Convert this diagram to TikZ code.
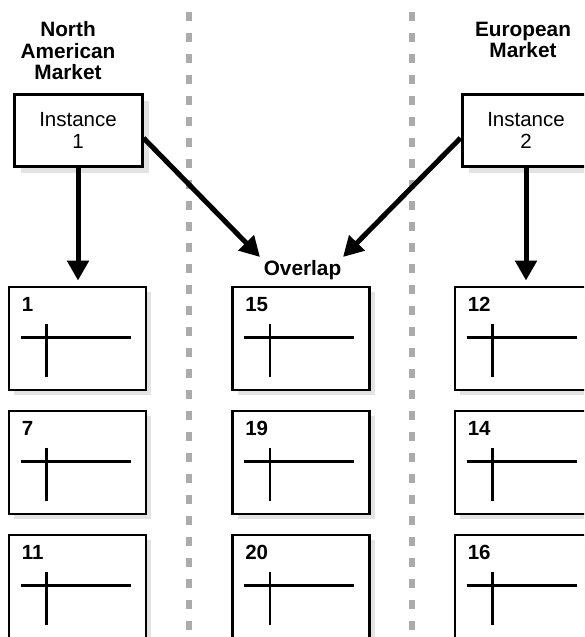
\documentclass[tikz,border=0pt]{standalone}
\usepackage{fontspec}
\setmainfont{Liberation Sans}
\usetikzlibrary{arrows.meta,shadows}

\tikzset{
  title/.style={font=\bfseries\fontsize{20.8}{21.5}\selectfont, align=center, inner sep=0pt},
  instbox/.style={draw, line width=3pt, fill=white, minimum width=128pt, minimum height=72pt,
    inner sep=0pt, align=center, font=\fontsize{20.5}{22}\selectfont,
    drop shadow={shadow xshift=7pt, shadow yshift=-7pt, fill=black!11, opacity=1}},
  tbl/.style={draw, line width=2.8pt, fill=white, minimum width=137pt, minimum height=103pt,
    inner sep=0pt,
    drop shadow={shadow xshift=5pt, shadow yshift=-5pt, fill=black!11, opacity=1}},
  num/.style={font=\bfseries\fontsize{20.5}{22}\selectfont, inner sep=0pt},
  cross/.style={line width=2.7pt},
  flow/.style={line width=5pt, -{Triangle[length=20pt,width=21pt]}},
  divider/.style={line width=5.5pt, draw=black!33, dash pattern=on 9pt off 12pt},
}

\begin{document}
\begin{tikzpicture}[x=1pt, y=-1pt]
\useasboundingbox (0,0) rectangle (584,637);
\clip (0,0) rectangle (584,637);

% market dividers
\coordinate (d1top) at (189,12);
\coordinate (d1bot) at (189,645);
\coordinate (d2top) at (412,12);
\coordinate (d2bot) at (412,645);
\draw[divider] (d1top) -- (d1bot);
\draw[divider] (d2top) -- (d2bot);

% column headings
\node[title, anchor=north] (hna) at (68,21.5) {North\\American\\Market};
\node[title, anchor=north] (heu) at (523,21.5) {European\\Market};
\node[title, anchor=base] (ovl) at (302.5,275) {Overlap};

% instances
\node[instbox] (i1) at (78,130) {Instance\\1};
\node[instbox] (i2) at (526,130) {Instance\\2};

% partition tables
\foreach \cx/\col/\nums in {77.5/L/{1,7,11}, 301/M/{15,19,20}, 523.5/R/{12,14,16}} {
  \foreach \n [count=\r] in \nums {
    \node[tbl] (\col\r) at (\cx, {338.5+124*(\r-1)}) {};
    \node[num, anchor=base west] (\col\r n) at ([xshift=14pt, yshift=-26pt]\col\r.north west) {\n};
    \draw[cross] ([xshift=13pt, yshift=-52pt]\col\r.north west) -- ++(110,0);
    \draw[cross] ([xshift=39pt, yshift=-38pt]\col\r.north west) -- ++(0,53);
  }
}

% data flow
\coordinate (tipL) at (260,257);
\coordinate (tipR) at (343,257);
\draw[flow] (i1.south) -- ([yshift=5pt]L1.north -| i1.south);
\draw[flow] ([yshift=-8pt]i1.east) -- (tipL);
\draw[flow] ([yshift=-8pt]i2.west) -- (tipR);
\draw[flow] (i2.south) -- ([yshift=5pt]R1.north -| i2.south);
\end{tikzpicture}
\end{document}
